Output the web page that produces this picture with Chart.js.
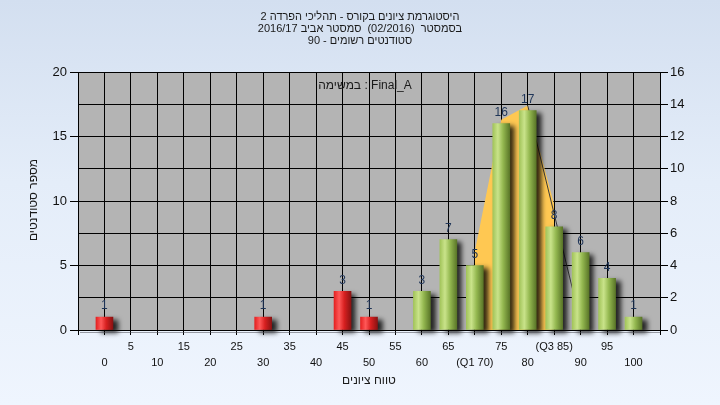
<!DOCTYPE html>
<html><head><meta charset="utf-8">
<script src="https://cdn.jsdelivr.net/npm/chart.js@4.4.0/dist/chart.umd.min.js"></script>
<style>
html,body{margin:0;padding:0;width:720px;height:405px;overflow:hidden;background:linear-gradient(180deg,#d3dff0 0%,#e4edf9 45%,#eff5fe 100%);}
canvas{display:block}
</style></head><body>
<canvas id="c" width="720" height="405"></canvas>
<script>
// ---- data ----
const titleLines = [
  'היסטוגרמת ציונים בקורס - תהליכי הפרדה 2',
  'בסמסטר  (02/2016)  סמסטר אביב 2016/17',
  'סטודנטים רשומים - 90'
];
const taskLabel = 'במשימה : Final_A';
const xTitle = 'טווח ציונים';
const yTitle = 'מספר סטודנטים';
const grades = [0,5,10,15,20,25,30,35,40,45,50,55,60,65,70,75,80,85,90,95,100];
const counts = [1,0,0,0,0,0,1,0,0,3,1,0,3,7,5,16,17,8,6,4,1];
const q1 = 70, q3 = 85;
const iqrX = [70,75,80,85];
const iqrY = [6.1,16.3,17.4,9.7];
const trendX = [80,90];
const trendY = [17.4,0.6];
const failBelow = 55;
const leftMax = 20, leftStep = 5;
const rightMax = 16, rightStep = 2;
const xMin = -5, xMax = 105, xStep = 5;

const FONT = "'Liberation Sans','DejaVu Sans',Arial,sans-serif";
Chart.defaults.font.family = FONT;

function barFill(ctx){
  const chart = ctx.chart;
  const g = grades[ctx.dataIndex];
  const red = g < failBelow;
  const xs = chart.scales && chart.scales.x;
  if(!xs || !chart.chartArea) return red ? '#e02828' : '#9cc050';
  const cx = xs.getPixelForValue(g);
  const gr = chart.ctx.createLinearGradient(cx-8.5,0,cx+8.5,0);
  if(red){
    gr.addColorStop(0,'#e42222');
    gr.addColorStop(0.3,'#ff5858');
    gr.addColorStop(0.6,'#d82020');
    gr.addColorStop(1,'#8a1212');
  } else {
    gr.addColorStop(0,'#a2c45a');
    gr.addColorStop(0.3,'#c9e38a');
    gr.addColorStop(0.6,'#94b850');
    gr.addColorStop(1,'#5a7628');
  }
  return gr;
}

const deco = {
  id:'deco',
  beforeDraw(chart){
    const {ctx, chartArea:a} = chart;
    ctx.save();
    ctx.fillStyle = '#b4b4b4';
    ctx.fillRect(a.left, a.top, a.right-a.left, a.bottom-a.top);
    ctx.restore();
  },
  beforeDatasetDraw(chart, args){
    if(args.meta.type === 'bar'){
      const ctx = chart.ctx;
      ctx.save();
      ctx.shadowColor = 'rgba(0,0,0,0.8)';
      ctx.shadowBlur = 5;
      ctx.shadowOffsetX = 5;
      ctx.shadowOffsetY = 3;
    }
  },
  afterDatasetDraw(chart, args){
    if(args.meta.type === 'bar') chart.ctx.restore();
  },
  afterDatasetsDraw(chart){
    const ctx = chart.ctx;
    const meta = chart.getDatasetMeta(0);
    ctx.save();
    ctx.font = '12px ' + FONT;
    ctx.fillStyle = '#1f3558';
    ctx.textAlign = 'center';
    ctx.textBaseline = 'middle';
    meta.data.forEach((el,i)=>{
      if(!counts[i]) return;
      ctx.fillText(String(counts[i]), el.x, el.y - 11);
    });
    ctx.restore();
  },
  afterDraw(chart){
    const {ctx, chartArea:a} = chart;
    ctx.save();
    ctx.strokeStyle = 'rgba(80,80,90,0.55)';
    ctx.lineWidth = 1;
    ctx.beginPath(); ctx.moveTo(a.left+2, a.bottom+2.5); ctx.lineTo(a.right, a.bottom+2.5); ctx.stroke();
    ctx.fillStyle = '#1a1a1a';
    ctx.textAlign = 'center';
    ctx.textBaseline = 'middle';
    ctx.font = '11px ' + FONT;
    const ys = [17, 29, 41];
    titleLines.forEach((t,i)=>ctx.fillText(t, 360, ys[i]));
    ctx.font = '12px ' + FONT;
    ctx.fillText(taskLabel, (a.left+a.right)/2 - 4, 86);
    ctx.fillText(xTitle, (a.left+a.right)/2, 381);
    ctx.translate(34, (a.top+a.bottom)/2 - 1);
    ctx.rotate(-Math.PI/2);
    ctx.fillText(yTitle, 0, 0);
    ctx.restore();
  }
};

function xLabel(v){
  if(v < 0 || v > 100) return ['',''];
  let s = String(v);
  if(v === q1) s = '(Q1 ' + v + ')';
  if(v === q3) s = '(Q3 ' + v + ')';
  return (Math.round(v/5) % 2 === 1) ? [s,''] : ['',s];
}

new Chart(document.getElementById('c'), {
  type:'bar',
  data:{
    datasets:[
      {
        type:'bar',
        data: grades.map((g,i)=>({x:g, y: counts[i] === 0 ? null : counts[i]})),
        backgroundColor: barFill,
        borderWidth:0,
        barThickness:17,
        order:0,
        clip:false,
        yAxisID:'y'
      },
      {
        type:'line',
        data: iqrX.map((x,i)=>({x, y:iqrY[i]})),
        fill:'origin',
        backgroundColor:'#ffc852',
        borderWidth:0,
        borderColor:'rgba(0,0,0,0)',
        pointRadius:0,
        tension:0,
        order:2,
        yAxisID:'y'
      },
      {
        type:'line',
        data: trendX.map((x,i)=>({x, y:trendY[i]})),
        fill:false,
        borderColor:'#3a3a3a',
        borderWidth:1,
        pointRadius:0,
        tension:0,
        order:1,
        yAxisID:'y'
      }
    ]
  },
  options:{
    responsive:false,
    animation:false,
    devicePixelRatio:1,
    layout:{padding:{top:72,left:0,right:0,bottom:0}},
    plugins:{legend:{display:false}, tooltip:{enabled:false}, title:{display:false}},
    scales:{
      x:{
        type:'linear', min:xMin, max:xMax, offset:false,
        ticks:{stepSize:xStep, autoSkip:false, maxRotation:0, minRotation:0, color:'#111', font:{size:11, lineHeight:'16px'}, padding:4, callback:xLabel},
        grid:{color:'#000', lineWidth:1, tickLength:5, offset:false, drawOnChartArea:true},
        border:{display:true, color:'#000'},
        afterFit(s){ s.height = 75; }
      },
      y:{
        type:'linear', position:'left', min:0, max:leftMax,
        ticks:{stepSize:leftStep, color:'#111', font:{size:13}, padding:3},
        grid:{drawOnChartArea:false, color:'#000', tickLength:8},
        border:{display:true, color:'#000'},
        afterFit(s){ s.width = 78; }
      },
      y2:{
        type:'linear', position:'right', min:0, max:rightMax,
        ticks:{stepSize:rightStep, color:'#111', font:{size:13}, padding:2},
        grid:{color:'#000', tickLength:8, lineWidth:1},
        border:{display:true, color:'#000'},
        afterFit(s){ s.width = 60; }
      }
    }
  },
  plugins:[deco]
});
</script>
</body></html>
